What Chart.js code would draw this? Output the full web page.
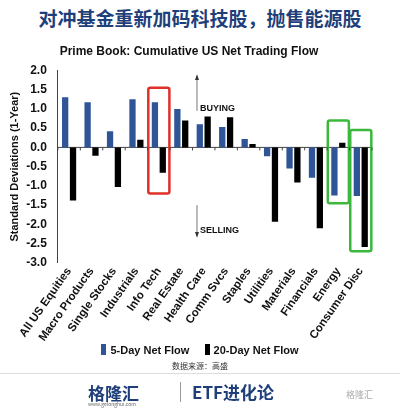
<!DOCTYPE html>
<html><head><meta charset="utf-8">
<script src="https://cdn.jsdelivr.net/npm/chart.js@4"></script>
<style>
body{margin:0;width:400px;height:410px;background:#fff;font-family:"Noto Sans CJK SC","Liberation Sans",sans-serif;position:relative;overflow:hidden}
#t{position:absolute;top:4px;left:0;width:400px;text-align:center;font-size:19px;font-weight:bold;color:#1f3f7a}
#wrap{position:absolute;top:44px;left:0;width:400px;height:302px}
#leg{position:absolute;top:344px;left:0;width:400px;text-align:center;font:bold 11px "Liberation Sans";color:#111}
#leg span.b{display:inline-block;width:5px;height:11px;vertical-align:-1px;margin-right:4px}
#src{position:absolute;top:360px;left:0;width:400px;text-align:center;font-size:8px;color:#333}
#foot{position:absolute;top:373px;left:0;width:400px;height:37px;border-top:1px solid #ddd}
</style></head><body>
<div id="t">对冲基金重新加码科技股，抛售能源股</div>
<div id="wrap"><canvas id="c"></canvas></div>
<div id="leg"><span class="b" style="background:#2f5597"></span>5-Day Net Flow &nbsp;&nbsp;&nbsp; <span class="b" style="background:#000"></span>20-Day Net Flow</div>
<div id="src">数据来源：高盛</div>
<div id="foot">
<div style="position:absolute;left:88px;top:6px;font-size:17px;font-weight:bold;color:#1f3f7a">格隆汇</div>
<div style="position:absolute;left:88px;top:26px;font-size:5px;color:#666">www.gelonghui.com</div>
<div style="position:absolute;left:180px;top:8px;width:1px;height:20px;background:#999"></div>
<div style="position:absolute;left:192px;top:5px;font-size:17px;font-weight:bold;color:#1f3f7a">ETF进化论</div>
<div style="position:absolute;left:346px;top:14px;font-size:9px;color:#aaa">格隆汇</div>
</div>
<script>
const categories=['All US Equities','Macro Products','Single Stocks','Industrials','Info Tech','Real Estate','Health Care','Comm Svcs','Staples','Utilities','Materials','Financials','Energy','Consumer Disc'];
const flow5=[1.3,1.17,0.42,1.25,1.17,1.0,0.6,0.53,0.22,-0.23,-0.55,-0.79,-1.25,-1.26];
const flow20=[-1.38,-0.22,-1.03,0.2,-0.66,0.7,0.8,0.78,0.09,-1.93,-0.91,-2.1,0.12,-2.59];
const yTicks=[2,1.5,1,0.5,0,-0.5,-1,-1.5,-2,-2.5,-3];
// highlight boxes: [category index, yTop, yBottom, color]
const boxes=[[4,1.55,-1.2,'#e0302a'],[12,0.7,-1.45,'#3cb83c'],[13,0.45,-2.7,'#3cb83c']];

const overlay={id:'overlay',afterDatasetsDraw(ch){
  const {ctx,scales:{x,y}}=ch;const w=x.getPixelForValue(1)-x.getPixelForValue(0);
  ctx.save();
  boxes.forEach(([i,t,b,c])=>{ctx.strokeStyle=c;ctx.lineWidth=2.5;
    const l=x.getPixelForValue(i)-w*0.47;
    ctx.beginPath();ctx.roundRect(l,y.getPixelForValue(t),w*0.94,y.getPixelForValue(b)-y.getPixelForValue(t),2);ctx.stroke();});
  const ax=x.getPixelForValue(5.7);
  ctx.strokeStyle='#777';ctx.fillStyle='#333';ctx.lineWidth=1;
  ctx.beginPath();ctx.moveTo(ax,y.getPixelForValue(0.95));ctx.lineTo(ax,y.getPixelForValue(1.85));ctx.stroke();
  ctx.beginPath();ctx.moveTo(ax-2,y.getPixelForValue(1.75));ctx.lineTo(ax,y.getPixelForValue(1.9));ctx.lineTo(ax+2,y.getPixelForValue(1.75));ctx.fill();
  ctx.beginPath();ctx.moveTo(ax,y.getPixelForValue(-1.5));ctx.lineTo(ax,y.getPixelForValue(-2.3));ctx.stroke();
  ctx.beginPath();ctx.moveTo(ax-2,y.getPixelForValue(-2.2));ctx.lineTo(ax,y.getPixelForValue(-2.35));ctx.lineTo(ax+2,y.getPixelForValue(-2.2));ctx.fill();
  ctx.font='bold 9px "Liberation Sans"';ctx.fillStyle='#111';ctx.textBaseline='middle';
  ctx.fillText('BUYING',ax+3,y.getPixelForValue(1.0));
  ctx.fillText('SELLING',ax+3,y.getPixelForValue(-2.15));
  // small ticks on zero line between categories
  const z=y.getPixelForValue(0);ctx.strokeStyle='#444';
  for(let i=0;i<=categories.length;i++){const px=x.getPixelForValue(i-0.5);ctx.beginPath();ctx.moveTo(px,z);ctx.lineTo(px,z+3);ctx.stroke();}
  ctx.restore();}};

new Chart(document.getElementById('c'),{type:'bar',
  data:{labels:categories,datasets:[
    {label:'5-Day Net Flow',data:flow5,backgroundColor:'#2f5597',categoryPercentage:0.7,barPercentage:0.8},
    {label:'20-Day Net Flow',data:flow20,backgroundColor:'#000',categoryPercentage:0.7,barPercentage:0.8}]},
  options:{responsive:true,maintainAspectRatio:false,animation:false,
    layout:{padding:{right:28,left:6,top:0}},
    plugins:{legend:{display:false},tooltip:{enabled:false},
      title:{display:true,text:'Prime Book: Cumulative US Net Trading Flow',color:'#111',font:{family:'Liberation Sans',size:12,weight:'bold'},padding:{top:0,bottom:12}}},
    scales:{
      x:{grid:{display:false,drawTicks:false},border:{display:false},
        ticks:{color:'#111',font:{family:'Liberation Sans',size:11.5,weight:'bold'},maxRotation:55,minRotation:55,autoSkip:false,padding:2}},
      y:{min:-3,max:2,afterBuildTicks(a){a.ticks=yTicks.map(v=>({value:v}));},
        grid:{display:false},border:{color:'#444'},
        title:{display:true,text:'Standard Deviations (1-Year)',color:'#111',font:{family:'Liberation Sans',size:11,weight:'bold'},padding:2},
        ticks:{color:'#111',font:{family:'Liberation Sans',size:12,weight:'bold'},callback:v=>v.toFixed(1)}}}},
  plugins:[overlay,{id:'zero',beforeDatasetsDraw(ch){const {ctx,chartArea:a,scales:{y}}=ch;const p=y.getPixelForValue(0);ctx.save();ctx.strokeStyle='#444';ctx.beginPath();ctx.moveTo(a.left,p);ctx.lineTo(a.right,p);ctx.stroke();ctx.restore();}}]});
</script></body></html>
